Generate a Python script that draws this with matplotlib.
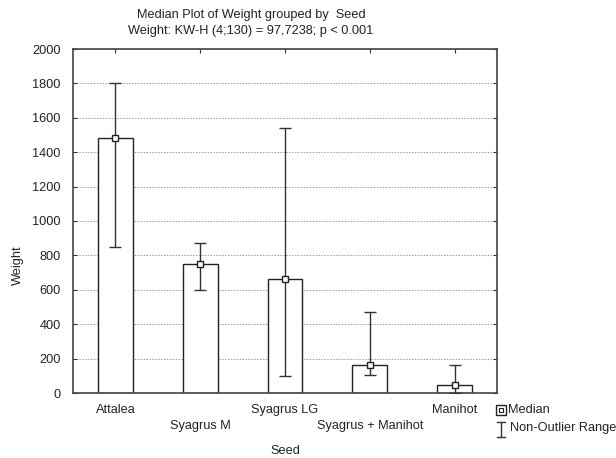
import matplotlib
matplotlib.use("Agg")
import matplotlib.pyplot as plt
from matplotlib.lines import Line2D
import numpy as np

plt.rcParams['font.family'] = ['Liberation Sans', 'DejaVu Sans']
plt.rcParams['font.size'] = 9.2

categories = ["Attalea", "Syagrus M", "Syagrus LG", "Syagrus + Manihot", "Manihot"]
medians = [1485, 750, 665, 160, 45]
range_low = [850, 600, 100, 105, 0]
range_high = [1800, 870, 1540, 470, 160]
yticks = [0, 200, 400, 600, 800, 1000, 1200, 1400, 1600, 1800, 2000]

fig = plt.figure(figsize=(6.16, 4.58), dpi=100)
ax = fig.add_axes([73/616, 1-393/458, (497-73)/616, (393-49)/458])

x = np.arange(len(categories))
ax.bar(x, medians, width=0.41, color='white', edgecolor='#222222', linewidth=1.0, zorder=2)
med = np.array(medians)
ax.errorbar(x, med, yerr=[med - np.array(range_low), np.array(range_high) - med],
            fmt='none', ecolor='#333333', elinewidth=1.0, capsize=4, capthick=1.0, zorder=3)
ax.plot(x, med, ls='none', marker='s', ms=4, mfc='white', mec='#222222', mew=1.0, zorder=4)

ax.set_xlim(-0.5, len(categories) - 0.5)
ax.set_ylim(0, 2000)
ax.set_yticks(yticks)
ax.set_xticks(x)
labels = [c if i % 2 == 0 else "\n" + c for i, c in enumerate(categories)]
ax.set_xticklabels(labels, color='#222222')
for t in ax.get_xticklabels():
    t.set_linespacing(1.45)
ax.tick_params(axis='both', direction='in', length=3, width=0.8, colors='#333333',
               top=True, right=True, labelcolor='#222222')
ax.tick_params(axis='x', pad=8)
ax.tick_params(axis='y', pad=9)
ax.grid(axis='y', ls=(0, (1.5, 1.5)), color='#999999', lw=0.7, zorder=0)
for s in ax.spines.values():
    s.set_linewidth(1.2)
    s.set_color('#444444')

ax.set_xlabel("Seed", color='#222222')
ax.xaxis.set_label_coords((285-73)/424, -(445-393)/344)
ax.set_ylabel("Weight", color='#222222')
ax.yaxis.set_label_coords((24-73)/424, (393-265)/344)

def fx(px):
    return px / 616
def fy(py):
    return 1 - py / 458

fig.text(fx(251), fy(15), "Median Plot of Weight grouped by  Seed", ha='center', va='center', color='#222222')
fig.text(fx(251), fy(31), "Weight: KW-H (4;130) = 97,7238; p < 0.001", ha='center', va='center', color='#222222')

# legend drawn in figure pixel coords
fig.add_artist(Line2D([fx(501)], [fy(410)], marker='s', ms=7, mfc='white', mec='#222222', mew=1.0,
                      ls='none', transform=fig.transFigure))
fig.add_artist(Line2D([fx(501)], [fy(410)], marker='s', ms=3, mfc='white', mec='#222222', mew=0.8,
                      ls='none', transform=fig.transFigure))
fig.text(fx(508), fy(410), "Median", ha='left', va='center', color='#222222')
fig.add_artist(Line2D([fx(501), fx(501)], [fy(422), fy(437)], color='#333333', lw=1.0, transform=fig.transFigure))
fig.add_artist(Line2D([fx(497), fx(505)], [fy(422), fy(422)], color='#333333', lw=1.0, transform=fig.transFigure))
fig.add_artist(Line2D([fx(497), fx(505)], [fy(437), fy(437)], color='#333333', lw=1.0, transform=fig.transFigure))
fig.text(fx(510), fy(428), "Non-Outlier Range", ha='left', va='center', color='#222222')

fig.savefig("out.png", dpi=100)
